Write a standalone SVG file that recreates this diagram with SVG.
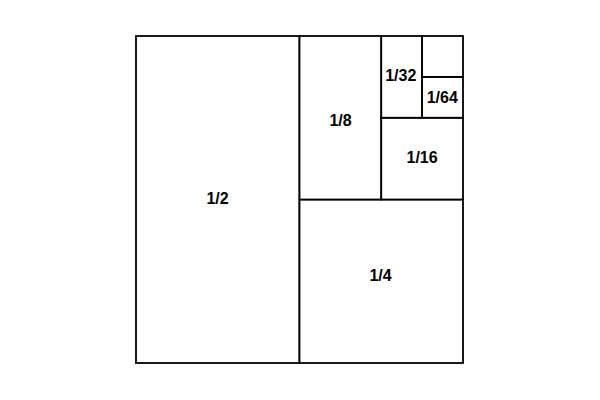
<svg xmlns="http://www.w3.org/2000/svg" width="600" height="400" viewBox="0 0 600 400">
<style>
.cell{fill:#fff;stroke:#000;stroke-width:1.8}
.lbl{font-family:"Liberation Sans",Arial,sans-serif;font-weight:bold;font-size:16px;fill:#000;text-anchor:middle}
</style>
<rect width="600" height="400" fill="#fff"/>
<g id="half"><rect class="cell" x="136" y="36" width="163.5" height="327"/><text class="lbl" x="217.6" y="204">1/2</text></g>
<g id="quarter"><rect class="cell" x="299.5" y="199.5" width="163.5" height="163.5"/><text class="lbl" x="380.5" y="281">1/4</text></g>
<g id="eighth"><rect class="cell" x="299.5" y="36" width="81.75" height="163.5"/><text class="lbl" x="340.6" y="126.3">1/8</text></g>
<g id="sixteenth"><rect class="cell" x="381.25" y="117.75" width="81.75" height="81.75"/><text class="lbl" x="422.1" y="162.7">1/16</text></g>
<g id="thirtysecond"><rect class="cell" x="381.25" y="36" width="40.9" height="81.75"/><text class="lbl" x="400.8" y="81">1/32</text></g>
<g id="sixtyfourth"><rect class="cell" x="422.1" y="76.9" width="40.9" height="40.85"/><text class="lbl" x="442.3" y="102.5">1/64</text></g>
<g id="rest"><rect class="cell" x="422.1" y="36" width="40.9" height="40.9"/></g>
</svg>
